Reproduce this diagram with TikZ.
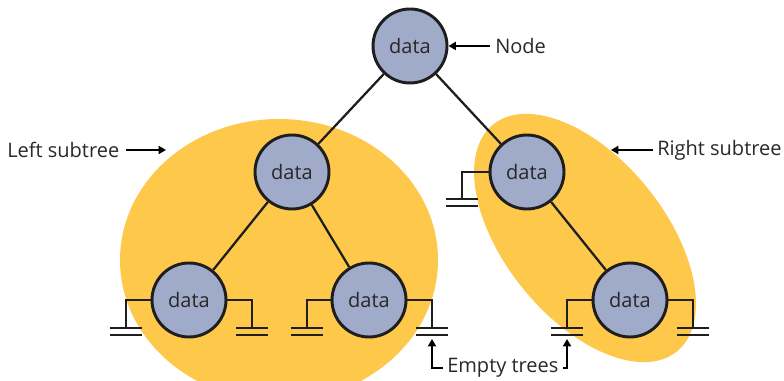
\documentclass[tikz,border=0pt]{standalone}
\usepackage{fontspec}
\setmainfont{Open Sans}
\usetikzlibrary{arrows.meta}
\definecolor{subtreeyellow}{RGB}{254,200,75}
\definecolor{nodeblue}{RGB}{160,170,201}
\definecolor{inkgray}{RGB}{30,30,30}
\definecolor{txtgray}{RGB}{40,40,40}
\newcommand\emptybars[1]{%
  \draw[bar] ([xshift=-12pt]#1) -- ([xshift=12pt]#1);
  \draw[bar] ([xshift=-12pt,yshift=-5.25pt]#1) -- ([xshift=12pt,yshift=-5.25pt]#1);}
\begin{document}
\begin{tikzpicture}[x=0.75pt,y=0.75pt,
  font=\fontsize{15pt}{18pt}\selectfont,
  treenode/.style={circle, draw=inkgray, line width=2.2pt, fill=nodeblue,
    minimum size=55.5pt, inner sep=0pt, text=txtgray},
  edge/.style={draw=inkgray, line width=1.7pt},
  wire/.style={draw=inkgray, line width=1.7pt},
  bar/.style={draw=inkgray, line width=1.9pt},
  lbl/.style={text=txtgray, inner sep=1.5pt},
  arr/.style={draw=black, line width=1.7pt, -{Triangle[length=5.5pt,width=6pt]}},
  region/.style={fill=subtreeyellow}
]
\useasboundingbox (0,0) rectangle (784,381);
\begin{scope}
  \clip (0,0) rectangle (784,381);
  \fill[region] (279,121) ellipse [x radius=119.25pt, y radius=105.75pt];
  \fill[region, rotate around={-51:(585,143)}] (585,143) ellipse [x radius=109.5pt, y radius=60pt];
\end{scope}

% tree nodes
\node[treenode] (root) at (410,335) {data};
\node[treenode] (L) at (292,209) {data};
\node[treenode] (R) at (527,209) {data};
\node[treenode] (LL) at (189,81) {data};
\node[treenode] (LR) at (369,81) {data};
\node[treenode] (RR) at (630,81) {data};

% edges
\draw[edge] (root) -- (L);
\draw[edge] (root) -- (R);
\draw[edge] (L) -- (LL);
\draw[edge] (L) -- (LR);
\draw[edge] (R) -- (RR);

% empty trees
\coordinate (gLLl) at (126,53);
\coordinate (gLLr) at (252,53);
\coordinate (gLRl) at (307,53);
\coordinate (gLRr) at (432,53);
\coordinate (gRl) at (462,182);
\coordinate (gRRl) at (567,53);
\coordinate (gRRr) at (693,53);
\draw[wire] (LL.west) -| (gLLl);
\draw[wire] (LL.east) -| (gLLr);
\draw[wire] (LR.west) -| (gLRl);
\draw[wire] (LR.east) -| (gLRr);
\draw[wire] (R.west) -| (gRl);
\draw[wire] (RR.west) -| (gRRl);
\draw[wire] (RR.east) -| (gRRr);
\emptybars{gLLl}
\emptybars{gLLr}
\emptybars{gLRl}
\emptybars{gLRr}
\emptybars{gRl}
\emptybars{gRRl}
\emptybars{gRRr}

% labels
\node[lbl, anchor=west] (nodetxt) at (493,335) {Node};
\draw[arr, shorten <=2.25pt] (nodetxt) -- (root);

\node[lbl, anchor=west] (lefttxt) at (5,231) {Left subtree};
\coordinate (ltip) at (166,231);
\draw[arr, shorten <=3pt] (lefttxt) -- (ltip);

\node[lbl, anchor=west] (righttxt) at (655,231) {Right subtree};
\coordinate (rtip) at (611,231);
\draw[arr, shorten <=1.5pt] (righttxt) -- (rtip);

\node[lbl, anchor=west] (emptytxt) at (445,13) {Empty trees};
\coordinate (tipL) at (432,42);
\coordinate (tipR) at (567,42);
\draw[arr, shorten <=1.5pt] (emptytxt.west) -| (tipL);
\draw[arr, shorten <=1.5pt] (emptytxt.east) -| (tipR);
\end{tikzpicture}
\end{document}
